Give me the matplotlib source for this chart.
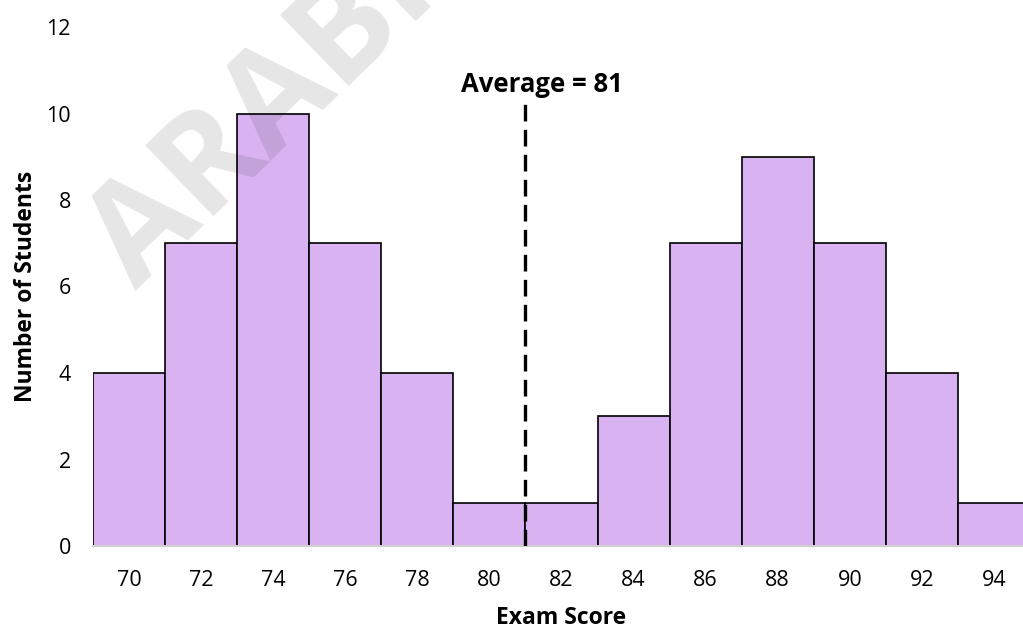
import matplotlib.pyplot as plt
import numpy as np

# Exam score histogram: bin centres and number of students per bin
score_bins = [70, 72, 74, 76, 78, 80, 82, 84, 86, 88, 90, 92, 94]
student_counts = [4, 7, 10, 7, 4, 1, 1, 3, 7, 9, 7, 4, 1]
average_score = 81
y_ticks = [0, 2, 4, 6, 8, 10, 12]

plt.rcParams['font.family'] = ['Open Sans', 'DejaVu Sans']

fig = plt.figure(figsize=(10.23, 6.3), dpi=100)
ax = fig.add_axes([93 / 1023, 84 / 630, 937 / 1023, 519 / 630])

ax.bar(score_bins, student_counts, width=2, color='#d9b3f1',
       edgecolor='black', linewidth=1.2, zorder=2)

# dashed marker for the class average
ax.vlines(average_score, 0, 10.3, colors='black', linestyles=(0, (5, 2.5)),
          linewidth=2.4, zorder=3)
ax.text(average_score + 0.47, 10.35, f'Average = {average_score}', ha='center',
        va='bottom', fontsize=18.5, fontweight='bold')

ax.set_xlim(69, 95)
ax.set_ylim(0, 12)
ax.set_xticks(score_bins)
ax.set_yticks(y_ticks)
ax.tick_params(length=0, labelsize=15.5, pad=17)
ax.tick_params(axis='y', pad=16)

for side in ['top', 'right', 'left']:
    ax.spines[side].set_visible(False)
ax.spines['bottom'].set_color('#d0d0d0')
ax.spines['bottom'].set_linewidth(1.5)

ax.set_xlabel('Exam Score', fontsize=16.5, fontweight='bold', labelpad=11)
ax.set_ylabel('Number of Students', fontsize=16.5, fontweight='bold', labelpad=6)

# faint watermark across the upper left
fig.text(0.062, 0.5, 'ARABPSYCHOLOGY', fontsize=100, fontweight='bold',
         color='black', alpha=0.1, rotation=44, ha='left', va='bottom',
         zorder=10)

fig.savefig('out.png', dpi=100)
